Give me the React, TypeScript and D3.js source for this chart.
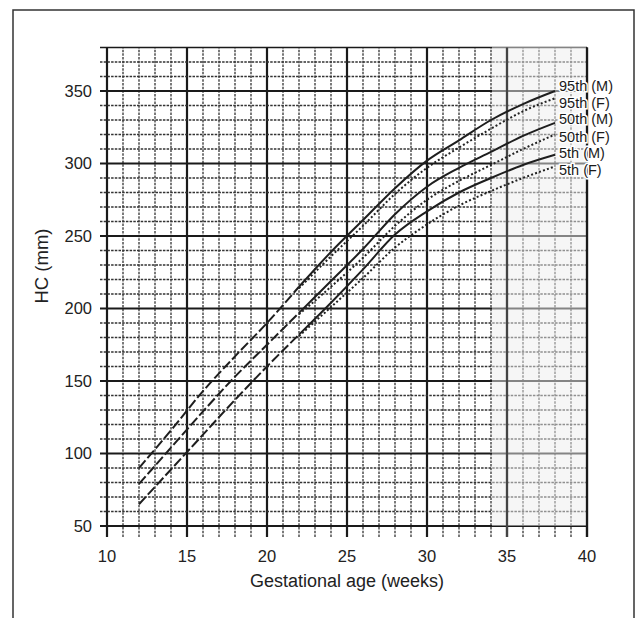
import React, { useEffect, useRef } from 'react';
import * as d3 from 'd3';

// Gestational age (weeks) at which the curves are read
const weeks = [12, 14, 16, 18, 20, 22, 24, 26, 28, 30, 32, 34, 36, 38];

// HC (mm) centiles, male (solid) and female (dotted)
const p95M = [90, 116, 143, 167, 190, 215, 239, 261, 283, 302, 316, 330, 341, 350];
const p95F = [90, 116, 143, 167, 190, 214, 236, 257, 279, 297, 311, 324, 336, 345];
const p50M = [79, 104, 129, 153, 175, 197, 219, 241, 265, 284, 297, 308, 319, 328];
const p50F = [79, 104, 129, 153, 175, 196, 215, 235, 257, 275, 288, 299, 310, 320];
const p5M = [65, 89, 113, 137, 160, 182, 204, 227, 251, 267, 280, 290, 299, 306];
const p5F = [65, 89, 113, 137, 160, 181, 201, 221, 242, 258, 271, 281, 290, 298];

const seriesNames = ['95th (M)', '95th (F)', '50th (M)', '50th (F)', '5th (M)', '5th (F)'];
const seriesValues = [p95M, p95F, p50M, p50F, p5M, p5F];

const xTicks = [10, 15, 20, 25, 30, 35, 40];
const yTicks = [50, 100, 150, 200, 250, 300, 350];

const App: React.FC = () => {
  const svgRef = useRef<SVGSVGElement>(null);

  useEffect(() => {
    if (!svgRef.current) return;
    const svg = d3.select(svgRef.current);
    svg.selectAll('*').remove();

    const font = '"Liberation Sans", Arial, sans-serif';
    const x = d3.scaleLinear().domain([10, 40]).range([107, 587]);
    const y = d3.scaleLinear().domain([50, 350]).range([526, 91]);
    const yTop = 380;
    const yBottomTick = 42.5;

    // scanned frame
    svg.append('path')
      .attr('d', 'M13,618 V10 H634 V618')
      .style('fill', 'none')
      .style('stroke', '#333')
      .style('stroke-width', 1.5);

    const grid = svg.append('g');

    // vertical lines, one per week
    grid.selectAll('.vline')
      .data(d3.range(10, 41))
      .enter().append('line')
      .attr('x1', d => x(d)).attr('x2', d => x(d))
      .attr('y1', y(yBottomTick)).attr('y2', y(yTop))
      .style('stroke', d => d % 5 === 0 ? '#1a1a1a' : '#333')
      .style('stroke-width', d => d % 5 === 0 ? 2.2 : 1.3)
      .style('stroke-dasharray', d => d % 5 === 0 ? null : '2.5,1.2');

    // horizontal lines, one per 10 mm
    grid.selectAll('.hline')
      .data(d3.range(50, yTop + 1, 10))
      .enter().append('line')
      .attr('x1', x(10) - 7).attr('x2', x(40))
      .attr('y1', d => y(d)).attr('y2', d => y(d))
      .style('stroke', d => d % 50 === 0 || d === yTop ? '#1a1a1a' : '#333')
      .style('stroke-width', d => d % 50 === 0 ? 2.2 : 1.3)
      .style('stroke-dasharray', d => d % 50 === 0 || d === yTop ? null : '2.5,1.2');

    // lighter band for term weeks
    grid.append('rect')
      .attr('x', x(34) + 1)
      .attr('y', y(yTop) - 1)
      .attr('width', x(40) - x(34) - 2)
      .attr('height', y(50) - y(yTop) + 1)
      .style('fill', '#eeeeee')
      .style('opacity', 0.5);

    grid.append('line')
      .attr('x1', x(35)).attr('x2', x(35))
      .attr('y1', y(yBottomTick)).attr('y2', y(yTop))
      .style('stroke', '#444')
      .style('stroke-width', 2.2);

    grid.append('line')
      .attr('x1', x(40)).attr('x2', x(40))
      .attr('y1', y(yBottomTick)).attr('y2', y(yTop))
      .style('stroke', '#1a1a1a')
      .style('stroke-width', 2.2);

    // curves
    const dashUntil = 22;
    const line = d3.line<[number, number]>()
      .x(d => x(d[0]))
      .y(d => y(d[1]))
      .curve(d3.curveMonotoneX);

    const curves = svg.append('g');
    seriesValues.forEach((vals, i) => {
      const pts = weeks.map((w, j) => [w, vals[j]] as [number, number]);
      const male = i % 2 === 0;
      if (!male) {
        curves.append('path')
          .attr('d', line(pts.filter(p => p[0] >= dashUntil)))
          .style('fill', 'none')
          .style('stroke', '#222')
          .style('stroke-width', 2)
          .style('stroke-dasharray', '2,2.2');
        return;
      }
      curves.append('path')
        .attr('d', line(pts.filter(p => p[0] <= dashUntil)))
        .style('fill', 'none')
        .style('stroke', '#1e1e1e')
        .style('stroke-width', 2)
        .style('stroke-dasharray', '10,3');
      curves.append('path')
        .attr('d', line(pts.filter(p => p[0] >= dashUntil)))
        .style('fill', 'none')
        .style('stroke', '#1e1e1e')
        .style('stroke-width', 2);
    });

    // curve labels, kept apart so they do not collide
    const labelY: number[] = [];
    seriesValues.forEach((vals, i) => {
      const want = y(vals[vals.length - 1]) + (i % 2 === 0 ? -5 : 2);
      labelY.push(i === 0 ? want : Math.max(want, labelY[i - 1] + 16.5));
    });

    svg.append('g').selectAll('text')
      .data(seriesNames)
      .enter().append('text')
      .attr('x', x(weeks[weeks.length - 1]) + 4)
      .attr('y', (_, i) => labelY[i])
      .attr('dy', '0.35em')
      .style('font-family', font)
      .style('font-size', '14.5px')
      .style('fill', '#1a1a1a')
      .style('stroke', '#fff')
      .style('stroke-width', 3)
      .style('paint-order', 'stroke')
      .text(d => d);

    // tick labels
    svg.append('g').selectAll('text')
      .data(yTicks)
      .enter().append('text')
      .attr('x', 92)
      .attr('y', d => y(d))
      .attr('dy', '0.36em')
      .attr('text-anchor', 'end')
      .style('font-family', font)
      .style('font-size', '16.5px')
      .style('fill', '#222')
      .text(d => d);

    svg.append('g').selectAll('text')
      .data(xTicks)
      .enter().append('text')
      .attr('x', d => x(d))
      .attr('y', 562)
      .attr('text-anchor', 'middle')
      .style('font-family', font)
      .style('font-size', '16.5px')
      .style('fill', '#222')
      .text(d => d);

    // axis titles
    svg.append('text')
      .attr('x', 347)
      .attr('y', 587)
      .attr('text-anchor', 'middle')
      .style('font-family', font)
      .style('font-size', '18px')
      .style('fill', '#222')
      .text('Gestational age (weeks)');

    svg.append('text')
      .attr('transform', 'translate(48,266) rotate(-90)')
      .attr('text-anchor', 'middle')
      .style('font-family', font)
      .style('font-size', '18.5px')
      .style('fill', '#222')
      .text('HC (mm)');
  }, []);

  return (
    <svg
      ref={svgRef}
      width={639}
      height={618}
      style={{ position: 'absolute', left: 0, top: 0, background: '#fff' }}
    />
  );
};

export default App;
